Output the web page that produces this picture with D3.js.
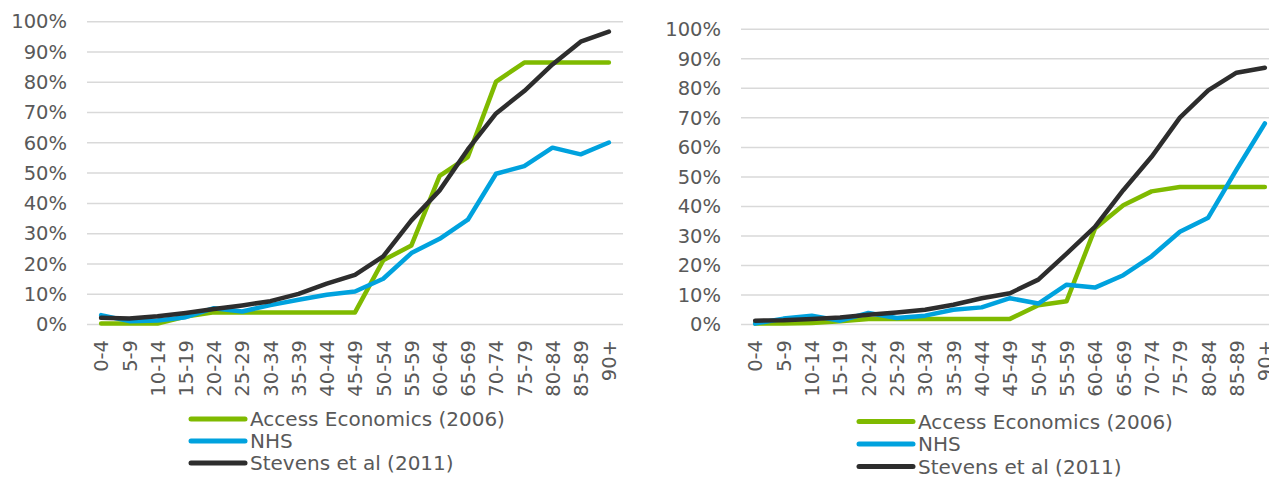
<!DOCTYPE html>
<html>
<head>
  <script src="https://d3js.org/d3.v7.min.js"></script>
  <style>
    body { margin: 0; padding: 0; background: #fff; }
    svg { display: block; }
    text {
      font-family: "DejaVu Sans", Verdana, sans-serif;
      font-size: 19.5px;
      fill: #595959;
    }
    .legend text { font-size: 20px; }
    .grid line { stroke: #d9d9d9; stroke-width: 1.5; }
    .series { fill: none; stroke-width: 4.5; stroke-linejoin: round; stroke-linecap: round; }
  </style>
</head>
<body>
  <div id="chart"></div>
  <script>
    /*
    DATA
    */
    var ageGroups = ["0-4","5-9","10-14","15-19","20-24","25-29","30-34","35-39","40-44","45-49",
                     "50-54","55-59","60-64","65-69","70-74","75-79","80-84","85-89","90+"];
    var yTicks = [0, 0.1, 0.2, 0.3, 0.4, 0.5, 0.6, 0.7, 0.8, 0.9, 1.0];
    var seriesNames = ["Access Economics (2006)", "NHS", "Stevens et al (2011)"];
    var seriesColors = ["#7fba00", "#00a2de", "#2d2d2d"];

    // left panel
    var leftAccess  = [0.003, 0.003, 0.003, 0.026, 0.040, 0.040, 0.040, 0.040, 0.040, 0.040,
                       0.212, 0.261, 0.491, 0.553, 0.802, 0.865, 0.865, 0.865, 0.865];
    var leftNHS     = [0.031, 0.011, 0.013, 0.024, 0.054, 0.043, 0.064, 0.082, 0.098, 0.109,
                       0.151, 0.236, 0.283, 0.346, 0.498, 0.523, 0.584, 0.562, 0.601];
    var leftStevens = [0.022, 0.020, 0.027, 0.038, 0.051, 0.063, 0.077, 0.101, 0.135, 0.164,
                       0.225, 0.344, 0.443, 0.578, 0.697, 0.771, 0.859, 0.934, 0.967];

    // right panel
    var rightAccess  = [0.003, 0.003, 0.005, 0.011, 0.019, 0.019, 0.019, 0.019, 0.019, 0.019,
                        0.065, 0.079, 0.325, 0.404, 0.451, 0.466, 0.466, 0.466, 0.466];
    var rightNHS     = [0.003, 0.020, 0.030, 0.013, 0.039, 0.022, 0.030, 0.050, 0.058, 0.089,
                        0.071, 0.135, 0.125, 0.167, 0.231, 0.314, 0.362, 0.525, 0.681];
    var rightStevens = [0.013, 0.014, 0.019, 0.024, 0.033, 0.041, 0.050, 0.067, 0.089, 0.106,
                        0.152, 0.240, 0.331, 0.455, 0.568, 0.701, 0.793, 0.853, 0.870];

    /*
    SVG CANVAS
    */
    var width = 1269, height = 478;
    var svg = d3.select("#chart")
      .append("svg")
      .attr("width", width)
      .attr("height", height);

    function drawPanel(p) {
      var g = svg.append("g");

      var xScale = d3.scalePoint()
        .domain(ageGroups)
        .range([p.left, p.right])
        .padding(0.5);

      var yScale = d3.scaleLinear()
        .domain([0, 1])
        .range([p.bottom, p.top]);

      // gridlines
      g.append("g")
        .attr("class", "grid")
        .selectAll("line")
        .data(yTicks)
        .enter()
        .append("line")
          .attr("x1", p.left)
          .attr("x2", p.right)
          .attr("y1", function(d) { return yScale(d); })
          .attr("y2", function(d) { return yScale(d); });

      // y axis labels
      var yAxis = g.append("g")
        .attr("transform", `translate(${p.left},0)`)
        .call(d3.axisLeft(yScale).tickValues(yTicks).tickFormat(d3.format(".0%")).tickSize(0).tickPadding(20));
      yAxis.select(".domain").remove();
      yAxis.selectAll("text").attr("fill", null);

      // x axis labels (rotated)
      var xAxis = g.append("g")
        .attr("transform", `translate(0,${p.bottom})`)
        .call(d3.axisBottom(xScale).tickSize(0).tickPadding(0));
      xAxis.select(".domain").remove();
      xAxis.selectAll("text")
        .attr("fill", null)
        .attr("y", 0)
        .attr("x", -(p.labelTop - p.bottom))
        .attr("dy", "0.35em")
        .attr("transform", "rotate(-90)")
        .style("text-anchor", "end");

      // lines
      var line = d3.line()
        .x(function(d, i) { return xScale(ageGroups[i]); })
        .y(function(d) { return yScale(d); });

      p.series.forEach(function(values, k) {
        g.append("path")
          .attr("class", "series")
          .attr("stroke", seriesColors[k])
          .attr("d", line(values));
      });

      // legend
      var legend = g.append("g")
        .attr("class", "legend")
        .attr("transform", `translate(${p.legendX},${p.legendY})`);
      seriesNames.forEach(function(name, k) {
        var row = legend.append("g").attr("transform", `translate(0,${k * p.legendStep})`);
        row.append("line")
          .attr("x1", 0).attr("x2", 54)
          .attr("y1", 0).attr("y2", 0)
          .attr("stroke", seriesColors[k])
          .attr("stroke-width", 5)
          .attr("stroke-linecap", "round");
        row.append("text")
          .attr("x", 59)
          .attr("y", 0)
          .attr("dy", "0.35em")
          .text(name);
      });
    }

    drawPanel({
      left: 87, right: 623, top: 21.7, bottom: 324.5, labelTop: 340,
      series: [leftAccess, leftNHS, leftStevens],
      legendX: 191, legendY: 419, legendStep: 22
    });

    drawPanel({
      left: 741, right: 1279, top: 29.3, bottom: 324.5, labelTop: 340,
      series: [rightAccess, rightNHS, rightStevens],
      legendX: 859, legendY: 421.5, legendStep: 22.5
    });
  </script>
</body>
</html>
